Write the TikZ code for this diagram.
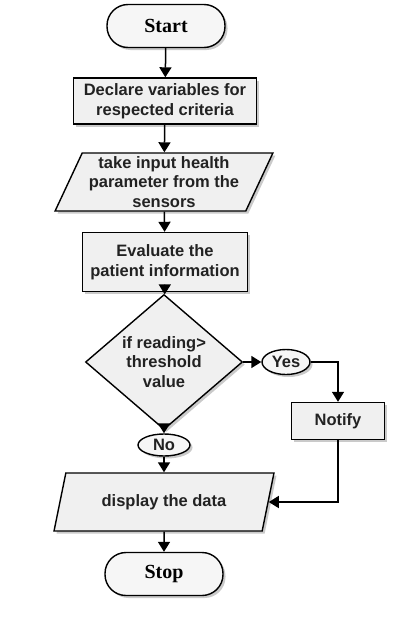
\documentclass[tikz,border=0pt]{standalone}
\usepackage{fontspec}
\setmainfont{Liberation Sans}
\newfontfamily\serifbold{Liberation Serif}
\usetikzlibrary{shapes.geometric,shapes.misc,arrows.meta,shadows}
\definecolor{txt}{RGB}{34,34,34}
\definecolor{boxfill}{RGB}{240,240,240}
\definecolor{termfill}{RGB}{246,246,246}
\begin{document}
\begin{tikzpicture}[x=1pt,y=-1pt,
  base/.style={draw=black, line width=1.4pt, fill=boxfill, text=txt,
    font=\fontsize{16.5}{19.5}\selectfont\bfseries, align=center, inner sep=0pt,
    drop shadow={shadow xshift=2.5pt, shadow yshift=-2.5pt, fill=gray!70, opacity=0.6}},
  procbox/.style={base, rectangle},
  iobox/.style={base, trapezium, trapezium left angle=64, trapezium right angle=116,
    trapezium stretches=true},
  decbox/.style={base, diamond},
  termbox/.style={base, rectangle, rounded corners=21pt, fill=termfill, text=black,
    font=\fontsize{20}{23}\selectfont\serifbold\bfseries},
  labbox/.style={base, ellipse, fill=termfill},
  conn/.style={line width=1.5pt, draw=black},
  arr/.style={conn, -{Triangle[width=12pt,length=10pt]}}
]
\useasboundingbox (0,0) rectangle (404,629);

\node[termbox, minimum width=118pt, minimum height=43pt] (start) at (166,26) {Start};
\node[procbox, minimum width=183pt, minimum height=46pt] (declare) at (165,101) {Declare variables for\\respected criteria};
\node[iobox, minimum width=218pt, minimum height=58pt] (input) at (164,182) {take input health\\parameter from the\\sensors};
\node[procbox, minimum width=165pt, minimum height=59pt] (eval) at (165,262) {Evaluate the\\patient information};
\node[decbox, minimum width=157pt, minimum height=110pt] (dec) at (164,362) {if reading>\\threshold\\value};
\node[labbox, minimum width=48pt, minimum height=25pt] (yes) at (286,362) {Yes};
\node[procbox, minimum width=93pt, minimum height=37pt] (notify) at (338,421) {Notify};
\node[labbox, minimum width=52pt, minimum height=22pt] (no) at (164,445) {No};
\node[iobox, minimum width=220pt, minimum height=58pt] (disp) at (164,502) {display the data};
\node[termbox, minimum width=118pt, minimum height=43pt] (stop) at (164,574) {Stop};

\draw[arr] (start) -- (declare);
\draw[arr] (declare) -- (input);
\draw[arr] (input) -- (eval);
\draw[arr] (eval) -- (dec);
\draw[arr] (dec.east) -- (yes.west);
\draw[arr] (yes.east) -| (notify.north);
\draw[arr] (dec.south) -- (no.north);
\draw[arr] (no) -- (disp);
\draw[arr] (notify.south) |- (disp.east);
\draw[arr] (disp) -- (stop);
\end{tikzpicture}
\end{document}
